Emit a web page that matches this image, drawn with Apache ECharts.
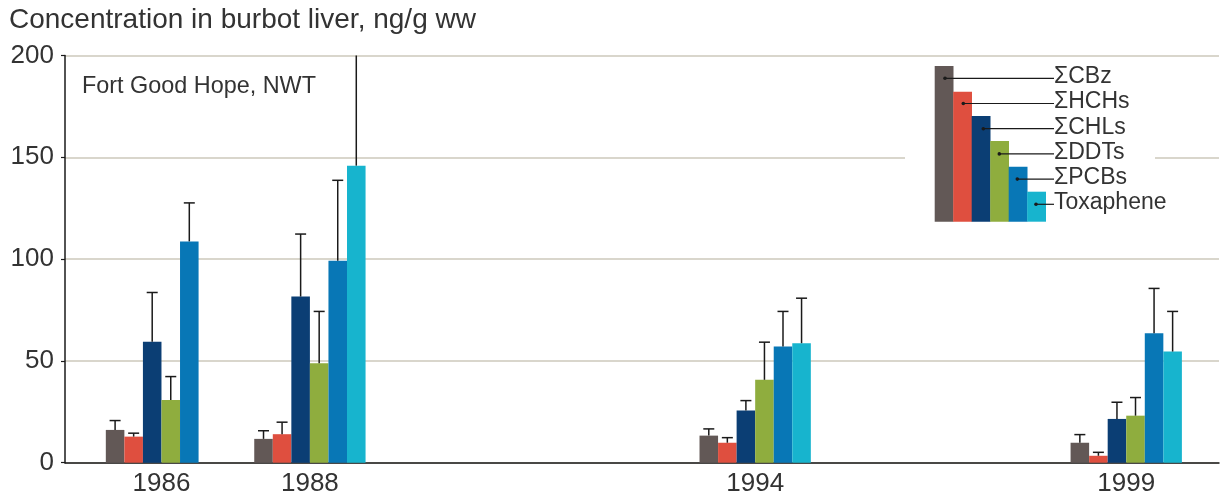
<!DOCTYPE html>
<html>
<head>
<meta charset="utf-8">
<script src="https://cdn.jsdelivr.net/npm/echarts@6/dist/echarts.min.js"></script>
<style>
  html, body { margin: 0; padding: 0; background: #fff; }
  #chart { width: 1224px; height: 502px; }
</style>
</head>
<body>
<div id="chart"></div>
<script>
var years = [1986, 1988, 1994, 1999];
var names = ['\u03a3CBz', '\u03a3HCHs', '\u03a3CHLs', '\u03a3DDTs', '\u03a3PCBs', 'Toxaphene'];

// mean and upper end of the error bar, one value per year
var cbz = [16.1, 11.7, 13.3, 9.8];
var cbzErr = [20.7, 15.7, 16.6, 13.8];
var hchs = [12.8, 14.0, 9.8, 3.4];
var hchsErr = [14.5, 19.9, 12.3, 5.1];
var chls = [59.4, 81.6, 25.6, 21.5];
var chlsErr = [83.6, 112.3, 30.5, 29.7];
var ddts = [30.8, 48.9, 40.7, 23.1];
var ddtsErr = [42.3, 74.3, 59.2, 32.0];
var pcbs = [108.7, 99.2, 57.1, 63.6];
var pcbsErr = [127.6, 138.7, 74.3, 85.6];
var toxa = [null, 145.9, 58.7, 54.6];
var toxaErr = [null, 230, 80.8, 74.3];

var yTicks = [0, 50, 100, 150, 200];

var colors = ['#625856', '#df4f3f', '#0b3e74', '#8fad3e', '#0877b6', '#17b4ce'];
var values = [cbz, hchs, chls, ddts, pcbs, toxa];
var errs = [cbzErr, hchsErr, chlsErr, ddtsErr, pcbsErr, toxaErr];

var FONT = '"Liberation Sans", Arial, sans-serif';
var BAR_YEARS = 0.25;

function makeRender(idx) {
    return function (params, api) {
        var year = api.value(0);
        var v = api.value(1);
        var e = api.value(2);
        var w = api.size([BAR_YEARS, 0])[0];
        var base = api.coord([year, 0]);
        var top = api.coord([year, v]);
        var cx = base[0] + (idx - 2.5) * w;
        var children = [{
            type: 'rect',
            shape: { x: cx - w / 2, y: top[1], width: w, height: base[1] - top[1] },
            style: { fill: colors[idx] }
        }];
        var clipped = e > 200;
        var ep = api.coord([year, clipped ? 200 : e]);
        children.push({
            type: 'line',
            shape: { x1: cx, y1: top[1], x2: cx, y2: ep[1] },
            style: { stroke: '#1a1a1a', lineWidth: 1.5 }
        });
        if (!clipped) {
            children.push({
                type: 'line',
                shape: { x1: cx - 5.5, y1: ep[1], x2: cx + 5.5, y2: ep[1] },
                style: { stroke: '#1a1a1a', lineWidth: 1.5 }
            });
        }
        return { type: 'group', children: children };
    };
}

var series = names.map(function (n, i) {
    var data = [];
    years.forEach(function (y, j) {
        if (values[i][j] != null) data.push([y, values[i][j], errs[i][j]]);
    });
    return {
        type: 'custom',
        name: n,
        renderItem: makeRender(i),
        encode: { x: 0, y: 1 },
        data: data,
        z: 3
    };
});

// staircase legend
var legendEls = [{
    type: 'rect', left: 905, top: 59,
    shape: { width: 250, height: 170 },
    style: { fill: '#fff' }, z: 10
}];
var lgBarTops = [66, 91.7, 116, 141, 166.7, 191.7];
var lgDotX = [945, 963.3, 983.3, 999.3, 1017.3, 1036];
names.forEach(function (n, i) {
    var x0 = 934.7 + i * 18.5;
    var ly = 78.3 + i * 25.2;
    legendEls.push({
        type: 'rect', left: x0, top: lgBarTops[i],
        shape: { width: 18.8, height: 221.7 - lgBarTops[i] },
        style: { fill: colors[i] }, z: 11
    });
    legendEls.push({
        type: 'line',
        shape: { x1: lgDotX[i], y1: ly, x2: 1054, y2: ly },
        style: { stroke: '#1a1a1a', lineWidth: 1.2 }, z: 12
    });
    legendEls.push({
        type: 'circle',
        shape: { cx: lgDotX[i], cy: ly, r: 1.8 },
        style: { fill: '#1a1a1a' }, z: 12
    });
    legendEls.push({
        type: 'text', left: 1054, top: ly - 13,
        style: { text: n, font: '23px ' + FONT, fill: '#333' }, z: 12
    });
});
legendEls.push({
    type: 'text', left: 82, top: 75,
    style: { text: 'Fort Good Hope, NWT', font: '23.4px ' + FONT, fill: '#333' }, z: 12
});

var chart = echarts.init(document.getElementById('chart'));
chart.setOption({
    animation: false,
    backgroundColor: '#fff',
    title: {
        text: 'Concentration in burbot liver, ng/g ww',
        left: 4, top: 1,
        textStyle: { fontFamily: FONT, fontSize: 28, fontWeight: 'normal', color: '#333' }
    },
    grid: { left: 65, right: 5, top: 55.5, bottom: 39.3 },
    xAxis: {
        type: 'value',
        min: 1984.7, max: 2000.25,
        splitLine: { show: false },
        axisTick: { show: false },
        axisLine: { lineStyle: { color: '#1a1a1a', width: 1.5 } },
        axisLabel: {
            customValues: years,
            fontFamily: FONT, fontSize: 26, color: '#333', margin: 8,
            formatter: function (v) { return String(v); }
        }
    },
    yAxis: {
        type: 'value',
        min: 0, max: 200, interval: 50,
        axisLine: { show: true, lineStyle: { color: '#1a1a1a', width: 1.5 } },
        axisTick: { show: true, length: 4, lineStyle: { color: '#1a1a1a', width: 1.2 } },
        axisLabel: {
            fontFamily: FONT, fontSize: 26, color: '#333', margin: 11,
            formatter: function (v) { return yTicks.indexOf(v) >= 0 ? String(v) : ''; }
        },
        splitLine: { lineStyle: { color: '#cdc9bb', width: 1.5 } }
    },
    graphic: legendEls,
    series: series
});
</script>
</body>
</html>
